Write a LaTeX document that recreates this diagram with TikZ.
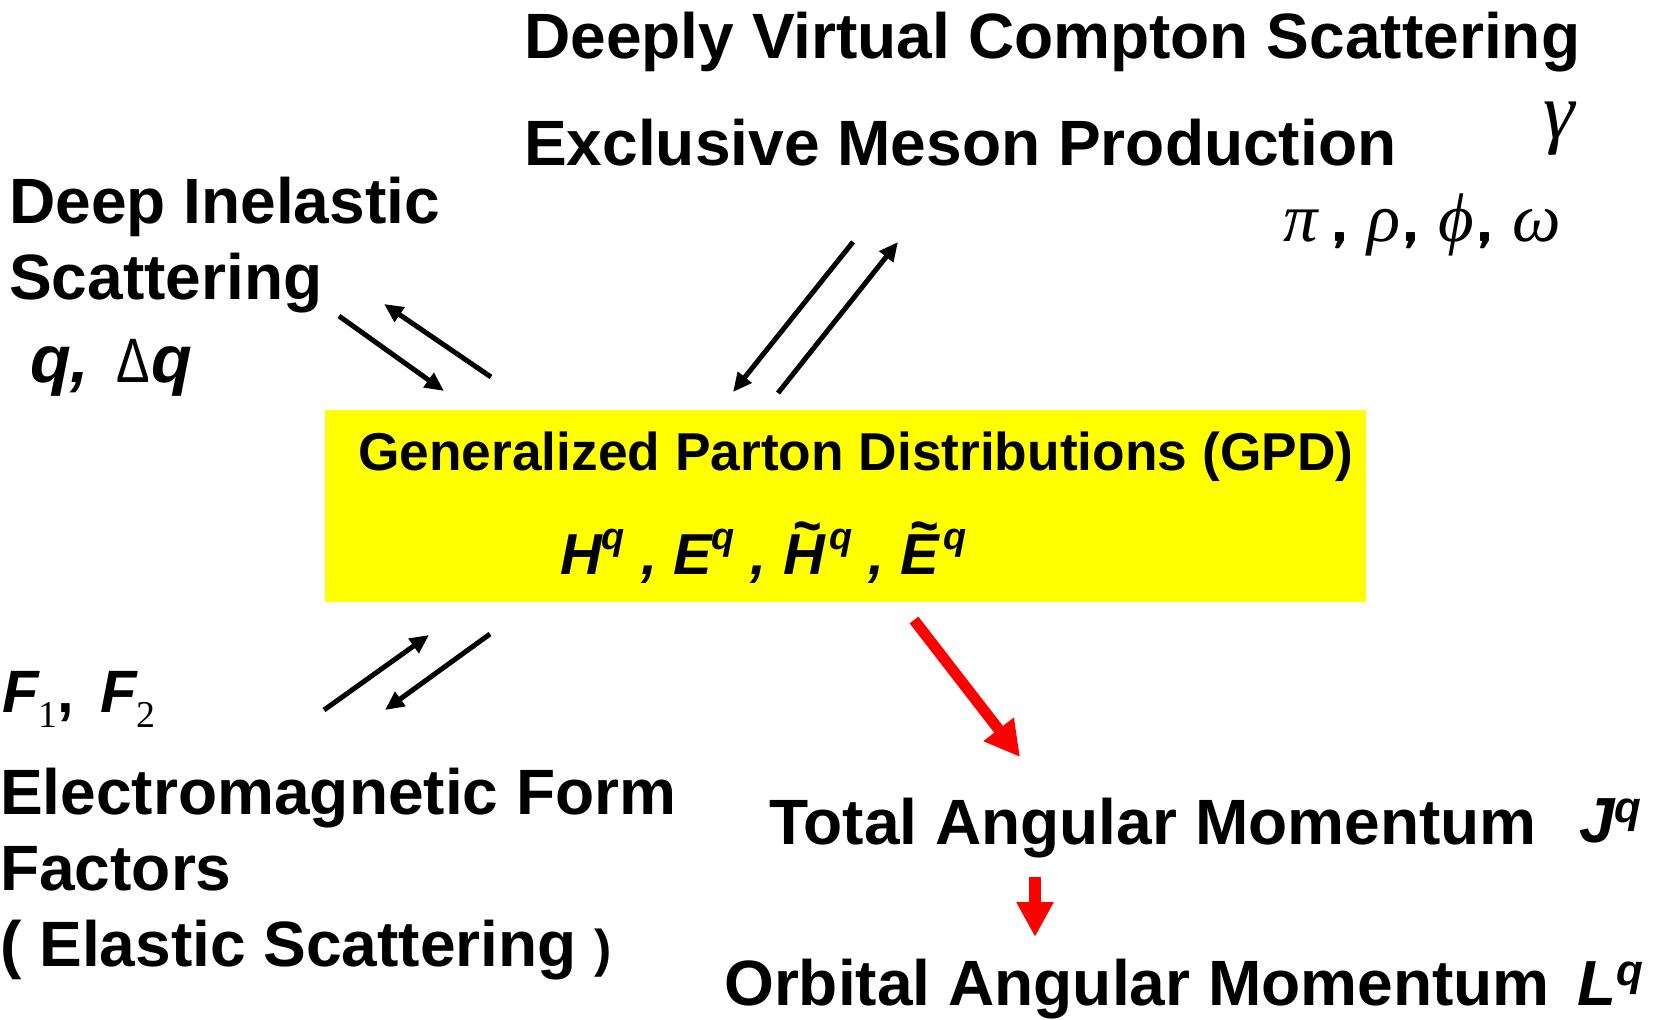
\documentclass[tikz,border=0pt]{standalone}
\usepackage{fontspec}
\setmainfont{Liberation Sans}
\newfontfamily\symserif{Liberation Serif}
\usetikzlibrary{arrows.meta, positioning}
\definecolor{GpdYellow}{HTML}{FFFF00}
\definecolor{FlowRed}{HTML}{FF0000}
\newcommand{\headfont}{\fontsize{64.3}{76}\selectfont\bfseries}
\newcommand{\gpdfont}{\fontsize{53.5}{64}\selectfont\bfseries}
\newcommand{\symfont}[1]{\fontsize{#1}{#1}\selectfont\bfseries\itshape}
\newcommand{\greekfont}[1]{\fontsize{#1}{#1}\selectfont\symserif\itshape}
% raised quark index q: #1 raise, #2 size
\newcommand{\qsup}[2]{\raisebox{#1}{\fontsize{#2}{#2}\selectfont q}}
% tilde over a capital
\newcommand{\wtilde}[1]{\leavevmode\rlap{\hspace{0.16em}\raisebox{0.5em}{\scalebox{0.85}[1]{\textasciitilde}}}#1\hspace{0.08em}}
\tikzset{
  txt/.style={anchor=base west, inner sep=0pt},
  pair/.style={line width=5bp, -{Triangle[length=19bp,width=17bp]}},
  flow/.style={draw=FlowRed, fill=FlowRed, -{Triangle[length=35bp,width=36bp]}},
}

\begin{document}
\begin{tikzpicture}[x=1bp, y=-1bp]
\useasboundingbox (0,0) rectangle (1665,1019);

% central box
\node[fill=GpdYellow, minimum width=1041bp, minimum height=192bp, inner sep=0pt,
      anchor=north west] (gpd) at (325,410) {};
\node[txt, font=\gpdfont] (gpdtitle) at (358,470) {Generalized Parton Distributions (GPD)};
\node[txt, font=\symfont{58}] (gpdsym) at (560,574)
  {H\qsup{25bp}{38} , E\qsup{25bp}{38} , \wtilde{H}\qsup{25bp}{38} , \wtilde{E}\qsup{25bp}{38}};

% processes
\node[txt, font=\headfont] (dvcs) at (524,58) {Deeply Virtual Compton Scattering};
\node[txt, font=\headfont] (mesons) at (524,165) {Exclusive Meson Production};
\node[txt, font=\greekfont{80}] (gamma) at (1543,138) {γ};
\node[txt, font=\greekfont{69}] (mesonsym) at (1283,241)
  {π\,{\sffamily\bfseries\upshape,} ρ{\sffamily\bfseries\upshape,} ϕ{\sffamily\bfseries\upshape,} ω};

\node[txt, font=\headfont] (dis1) at (9,223) {Deep Inelastic};
\node[txt, font=\headfont] (dis2) at (9,299) {Scattering};
\node[txt, font=\symfont{67}] (dissym) at (30,382)
  {q, \hspace{8bp}{\upshape\mdseries\fontsize{63}{63}\selectfont\scalebox{0.8}[1]{Δ}}\hspace{2bp}q};

\node[txt, font=\symfont{60}] (ffsym) at (2,712)
  {F\raisebox{-15bp}{\symserif\upshape\mdseries\fontsize{38}{38}\selectfont 1}{\upshape,}\hspace{26bp}F\raisebox{-15bp}{\symserif\upshape\mdseries\fontsize{38}{38}\selectfont 2}};
\node[txt, font=\headfont] (em1) at (0,814) {Electromagnetic Form};
\node[txt, font=\headfont] (em2) at (0,890) {Factors};
\node[txt, font=\headfont] (em3) at (0,966) {( Elastic Scattering {\fontsize{52}{52}\selectfont)}};

% angular momentum
\node[txt, font=\headfont] (tam) at (769,844) {Total Angular Momentum};
\node[txt, font=\symfont{64}] (jq) at (1579,842) {J\qsup{20bp}{44}};
\node[txt, font=\headfont] (oam) at (724,1005) {Orbital Angular Momentum};
\node[txt, font=\symfont{64}] (lq) at (1577,1005) {L\qsup{20bp}{44}};

% arrow ends
\coordinate (dis-from) at (339,316);  \coordinate (dis-to) at (444,391);
\coordinate (dis-back) at (491,377);  \coordinate (dis-tip) at (384,304);
\coordinate (dvcs-from) at (853,242); \coordinate (dvcs-to) at (733,392);
\coordinate (dvcs-back) at (778,393); \coordinate (dvcs-tip) at (898,242);
\coordinate (ff-from) at (324,710);   \coordinate (ff-to) at (429,635);
\coordinate (ff-back) at (490,634);   \coordinate (ff-tip) at (385,710);
\coordinate (j-from) at (914,620);    \coordinate (j-to) at (1020,757);
\coordinate (l-from) at (1035,877);   \coordinate (l-to) at (1035,937);

\draw[pair] (dis-from) -- (dis-to);
\draw[pair] (dis-back) -- (dis-tip);
\draw[pair] (dvcs-from) -- (dvcs-to);
\draw[pair] (dvcs-back) -- (dvcs-tip);
\draw[pair] (ff-from) -- (ff-to);
\draw[pair] (ff-back) -- (ff-tip);
\draw[flow, line width=11bp] (j-from) -- (j-to);
\draw[flow, line width=12bp, -{Triangle[length=35bp,width=35bp]}] (l-from) -- (l-to);
\end{tikzpicture}
\end{document}
